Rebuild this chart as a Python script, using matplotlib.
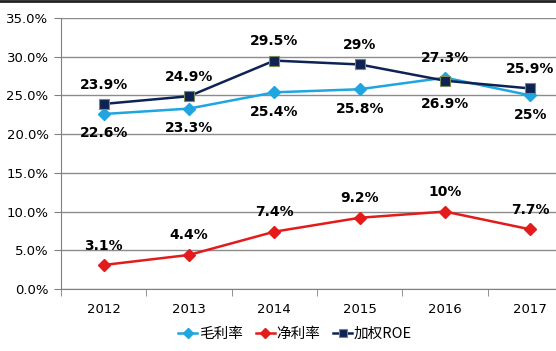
import numpy as np
import matplotlib.pyplot as plt

plt.rcParams['font.family'] = ['DejaVu Sans', 'Noto Sans CJK SC']

years = ['2012', '2013', '2014', '2015', '2016', '2017']
gross = [22.6, 23.3, 25.4, 25.8, 27.3, 25.0]
net = [3.1, 4.4, 7.4, 9.2, 10.0, 7.7]
roe = [23.9, 24.9, 29.5, 29.0, 26.9, 25.9]

gross_lbl = ['22.6%', '23.3%', '25.4%', '25.8%', '27.3%', '25%']
net_lbl = ['3.1%', '4.4%', '7.4%', '9.2%', '10%', '7.7%']
roe_lbl = ['23.9%', '24.9%', '29.5%', '29%', '26.9%', '25.9%']

# label above (+1) or below (-1) the point
gross_side = [-1, -1, -1, -1, 1, -1]
roe_side = [1, 1, 1, 1, -1, 1]

c_gross = '#1FA5E0'
c_net = '#E31B1B'
c_roe = '#0E2354'

fig = plt.figure(figsize=(5.56, 3.51), dpi=100)
ax = fig.add_axes([61 / 556, 62 / 351, 512 / 556, 271 / 351])
x = np.arange(len(years))

ax.plot(x, gross, color=c_gross, lw=1.8, marker='D', ms=6, label='毛利率', zorder=3)
ax.plot(x, net, color=c_net, lw=1.8, marker='D', ms=6, label='净利率', zorder=3)
ax.plot(x, roe, color=c_roe, lw=1.8, marker='s', ms=7, mec='#7d8c5a', mew=0.8,
        label='加权ROE', zorder=4)

bold = dict(textcoords='offset points', ha='center', va='center',
            fontsize=10, fontweight='bold')
for i in x:
    ax.annotate(roe_lbl[i], (i, roe[i]), xytext=(0, 14 if roe_side[i] > 0 else -17), **bold)
    ax.annotate(gross_lbl[i], (i, gross[i]), xytext=(0, 14 * gross_side[i]), **bold)
    ax.annotate(net_lbl[i], (i, net[i]), xytext=(0, 14), **bold)

ax.set_xlim(-0.5, 5.5)
ax.set_ylim(0, 35)
ax.set_yticks(np.arange(0, 36, 5))
ax.set_yticklabels(['%.1f%%' % v for v in np.arange(0, 36, 5)], fontsize=9.5)
ax.set_xticks(x)
ax.set_xticklabels(years, fontsize=9.5)
ax.set_xticks(np.arange(-0.5, 6, 1), minor=True)
ax.tick_params(axis='x', which='major', length=0, pad=10)
ax.tick_params(axis='x', which='minor', length=5, color='#808080')
ax.tick_params(axis='y', length=5, color='#808080', pad=4)
ax.grid(axis='y', color='#8c8c8c', lw=1)
ax.set_axisbelow(True)
for s in ['top', 'right']:
    ax.spines[s].set_visible(False)
ax.spines['left'].set_color('#808080')
ax.spines['bottom'].set_color('#808080')

fig.legend(loc='center', bbox_to_anchor=(295 / 556, 1 - 334 / 351), ncol=3,
           frameon=False, handlelength=1.3, handletextpad=0.1, columnspacing=0.9,
           markerscale=0.85,
           prop={'family': ['Noto Sans CJK SC', 'DejaVu Sans'], 'size': 10.5})

fig.add_artist(plt.Line2D([0, 1], [0.997, 0.997], color='#222222', lw=2))

fig.savefig('out.png', dpi=100)
